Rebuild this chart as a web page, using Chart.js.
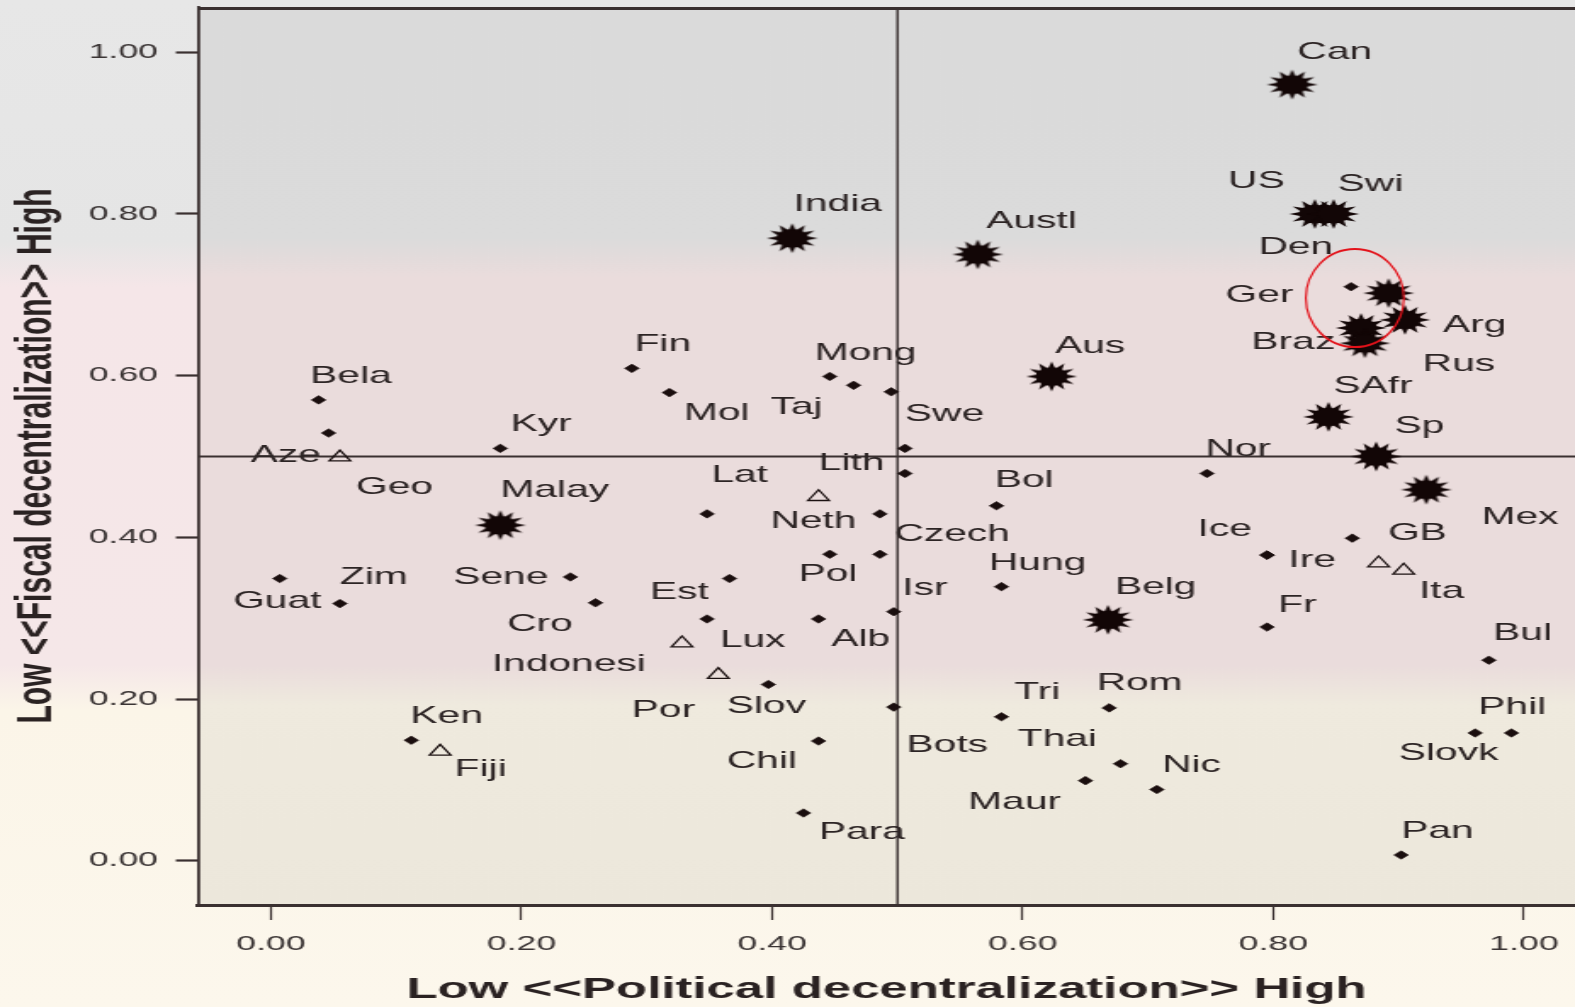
<!DOCTYPE html>
<html>
<head>
<meta charset="utf-8">
<script src="https://cdn.jsdelivr.net/npm/chart.js@4.4.1/dist/chart.umd.min.js"></script>
<style>
html,body{margin:0;padding:0;width:1575px;height:1007px;overflow:hidden;}
body{background:linear-gradient(to bottom,#e7e7e7 0%,#e5e5e5 24%,#f5e6e8 28.5%,#f5e7e8 66%,#fbf5e8 70.5%,#fcf7ec 100%);}
#wrap{position:absolute;left:0;top:0;width:927px;height:1007px;transform:scaleX(1.699);transform-origin:0 0;}
canvas{display:block;}
</style>
</head>
<body>
<div id="wrap"><canvas id="c" width="927" height="1007"></canvas></div>
<script>
// ---------- data ----------
// Federations (star markers)
const starNames = ['Can','US','Swi','India','Austl','Den','Arg','Braz','Rus','Aus','SAfr','Sp','Mex','Malay','Belg'];
const starX = [0.815,0.833,0.848,0.416,0.564,0.892,0.905,0.870,0.873,0.623,0.844,0.882,0.922,0.183,0.668];
const starY = [0.960,0.800,0.800,0.770,0.750,0.702,0.669,0.659,0.640,0.599,0.549,0.500,0.459,0.415,0.298];

// Triangle markers
const triNames = ['Geo','Fiji','Lith','Indonesi','Por','','Ita'];
const triX = [0.055,0.135,0.437,0.328,0.357,0.884,0.904];
const triY = [0.499,0.135,0.450,0.269,0.230,0.368,0.359];

// Other countries (small diamonds)
const dotNames = ['Bela','Aze','Kyr','Guat','Zim','Ken','Sene','Cro','Fin','Mol','Mong','Taj','Swe','','',
  'Lat','Neth','Pol','Czech','Est','Hung','Isr','Lux','Alb','Slov','Bots','Tri','Thai','Chil','Para',
  'Maur','Nic','Rom','Nor','Ice','Ire','Fr','Bul','Phil','Slovk','Pan','GB','Ger','Bol'];
const dotX = [0.038,0.046,0.183,0.007,0.055,0.112,0.239,0.259,0.288,0.318,0.446,0.465,0.495,0.506,0.506,
  0.348,0.486,0.446,0.486,0.366,0.583,0.497,0.348,0.437,0.397,0.497,0.583,0.678,0.437,0.425,
  0.650,0.707,0.669,0.747,0.795,0.795,0.795,0.972,0.990,0.961,0.902,0.863,0.862,0.579];
const dotY = [0.570,0.529,0.510,0.349,0.318,0.149,0.351,0.319,0.609,0.579,0.599,0.588,0.580,0.510,0.479,
  0.429,0.429,0.379,0.379,0.349,0.339,0.308,0.299,0.299,0.218,0.190,0.178,0.120,0.148,0.059,
  0.099,0.088,0.189,0.479,0.378,0.378,0.289,0.248,0.158,0.158,0.007,0.399,0.710,0.439];

// Axis ticks and reference cut-offs
const xTickValues = [0.00,0.20,0.40,0.60,0.80,1.00];
const yTickValues = [0.00,0.20,0.40,0.60,0.80,1.00];
const CUT_X = 0.5, CUT_Y = 0.5;
const highlight = {x:0.865, y:0.696};

// ---------- label placement (px offsets from each marker, style only) ----------
const starLabelPos = [[3,-32],[-51,-33],[2.4,-30],[0.8,-34],[5,-33],[-76.7,-46],[22.4,6],[-64.5,14],[34,21],[2,-30],[2.8,-30],[10.8,-30],[32.5,28],[0,-35],[4,-32]];
const triLabelPos = [[9.5,30],[8.5,18],[0,-34],[-112,21],[-51,36],null,[9,21]];
const dotLabelPos = [[-5,-24],[-46,22],[6,-24],[-27.5,23],[0,-26],[-0.5,-24],[-69,0],[-52,22],[1.5,-24],[8.5,21],[-9,-23.5],[-49,22],[8,23],null,null,
  [2.5,-38.5],[-64.5,7],[-18.5,20],[8.5,-20],[-47,13.5],[-7.5,-23],[5,-23],[7.5,21.5],[7.5,20.5],[-24.5,21.5],[7.5,38.5],[7.5,-24],[-60.5,-24],[-54,20.5],[9,19],
  [-69,21.5],[3,-24],[-7.5,-25],[-1,-24.5],[-41,-25.5],[12.5,5.5],[6.5,-22],[2.5,-26.5],[-19.5,-25.5],[-45,20],[0,-23.5],[21,-5],[-74,9],[-1,-25.5]];

const STRETCH = 1.699;
const INK = '#2c2424';
const LABEL_FONT = '24px "Liberation Sans", Arial, sans-serif';

function pts(xs, ys){ return xs.map((v,i)=>({x:v, y:ys[i]})); }

function makeStar(){
  const R = 15, c = document.createElement('canvas');
  c.width = Math.ceil(2*R+2); c.height = Math.ceil(2*R+2);
  const g = c.getContext('2d');
  g.translate(c.width/2, c.height/2);
  g.beginPath();
  const n = 12;
  for(let i=0;i<2*n;i++){
    const r = (i%2===0) ? R : R*0.55;
    const a = i*Math.PI/n - Math.PI/2;
    const px = Math.cos(a)*r, py = Math.sin(a)*r;
    if(i===0) g.moveTo(px,py); else g.lineTo(px,py);
  }
  g.closePath();
  g.fillStyle = '#120606';
  g.fill();
  g.beginPath(); g.arc(0,0,R*0.62,0,Math.PI*2); g.fill();
  return c;
}
const starImg = makeStar();

function noPad(scale){
  scale.paddingLeft = 0; scale.paddingRight = 0;
  scale.paddingTop = 0; scale.paddingBottom = 0;
}

const decor = {
  id: 'decor',
  beforeDraw(chart){
    const {ctx, chartArea:{left,top,right,bottom}} = chart;
    const g = ctx.createLinearGradient(0,0,0,chart.height);
    g.addColorStop(0,'#dadada');
    g.addColorStop(0.235,'#dbdbdb');
    g.addColorStop(0.275,'#eadcdc');
    g.addColorStop(0.66,'#eadcdc');
    g.addColorStop(0.70,'#efeade');
    g.addColorStop(1,'#ebe6da');
    ctx.save();
    ctx.fillStyle = g;
    ctx.fillRect(left, top, right-left, bottom-top);
    ctx.restore();
  },
  beforeDatasetsDraw(chart){
    const {ctx, chartArea:{left,top,right,bottom}, scales:{x,y}} = chart;
    ctx.save();
    ctx.strokeStyle = '#3a3030';
    const px = x.getPixelForValue(CUT_X), py = y.getPixelForValue(CUT_Y);
    ctx.lineWidth = 1.4;
    ctx.beginPath(); ctx.moveTo(px, top); ctx.lineTo(px, bottom); ctx.stroke();
    ctx.lineWidth = 2.2;
    ctx.beginPath(); ctx.moveTo(left, py); ctx.lineTo(right, py); ctx.stroke();
    ctx.lineWidth = 3;
    ctx.beginPath(); ctx.moveTo(left, top+1.5); ctx.lineTo(right, top+1.5); ctx.stroke();
    ctx.restore();
  },
  afterDatasetsDraw(chart){
    const {ctx, scales:{x,y}} = chart;
    ctx.save();
    ctx.font = LABEL_FONT;
    ctx.fillStyle = INK;
    ctx.textAlign = 'left';
    ctx.textBaseline = 'middle';
    chart.data.datasets.forEach((ds, di) => {
      const meta = chart.getDatasetMeta(di);
      meta.data.forEach((el, i) => {
        const name = ds.names[i];
        const off = ds.labelPos[i];
        if(!name || !off) return;
        ctx.fillText(name, el.x + off[0], el.y + off[1]);
      });
    });
    ctx.restore();
    // red highlight circle
    const cx = x.getPixelForValue(highlight.x), cy = y.getPixelForValue(highlight.y);
    ctx.save();
    ctx.translate(cx, cy);
    ctx.scale(1/STRETCH, 1);
    ctx.beginPath();
    ctx.arc(0, 0, 49, 0, Math.PI*2);
    ctx.strokeStyle = '#e3121a';
    ctx.lineWidth = 2;
    ctx.stroke();
    ctx.restore();
  }
};

const tickFont = {family:'"Liberation Sans", Arial, sans-serif', size:21};
const titleFont = {family:'"Liberation Sans", Arial, sans-serif', size:30, weight:'bold', lineHeight:1};

new Chart(document.getElementById('c'), {
  type: 'scatter',
  data: {
    datasets: [
      {
        label: 'Federations', names: starNames, labelPos: starLabelPos,
        data: pts(starX, starY),
        pointStyle: starImg, pointRadius: 14, pointHoverRadius: 14
      },
      {
        label: 'Triangles', names: triNames, labelPos: triLabelPos,
        data: pts(triX, triY),
        pointStyle: 'triangle', pointRadius: 7.2, pointHoverRadius: 7.2,
        backgroundColor: 'rgba(0,0,0,0)', borderColor: '#1c1212', borderWidth: 1.3
      },
      {
        label: 'Others', names: dotNames, labelPos: dotLabelPos,
        data: pts(dotX, dotY),
        pointStyle: 'rectRot', pointRadius: 4.3, pointHoverRadius: 4.3,
        backgroundColor: '#1a0e0e', borderColor: '#1a0e0e', borderWidth: 0.5
      }
    ]
  },
  options: {
    responsive: false,
    devicePixelRatio: 1,
    animation: false,
    events: [],
    layout: {autoPadding: false, padding: {top: 7, right: 0, left: 0, bottom: 0}},
    plugins: {legend: {display: false}, tooltip: {enabled: false}},
    scales: {
      x: {
        type: 'linear',
        min: -0.0583, max: 1.0407,
        afterFit(scale){ scale.height = 102; noPad(scale); },
        afterBuildTicks(scale){ scale.ticks = xTickValues.map(v => ({value: v})); },
        ticks: {
          font: tickFont, color: '#3a3434', padding: 12, maxRotation: 0, autoSkip: false,
          callback: v => Number(v).toFixed(2)
        },
        grid: {display: true, drawOnChartArea: false, drawTicks: true, tickLength: 15, tickWidth: 1.2, tickColor: '#3a3030'},
        border: {display: true, color: '#3a3030', width: 3},
        title: {display: true, text: 'Low <<Political decentralization>> High', font: titleFont, color: '#2a2222', padding: {top: 0, bottom: 2}}
      },
      y: {
        type: 'linear',
        min: -0.0548, max: 1.056,
        afterFit(scale){ scale.width = 116.5; noPad(scale); },
        afterBuildTicks(scale){ scale.ticks = yTickValues.map(v => ({value: v})); },
        ticks: {
          font: tickFont, color: '#3a3434', padding: 10.5, autoSkip: false,
          callback: v => Number(v).toFixed(2)
        },
        grid: {display: true, drawOnChartArea: false, drawTicks: true, tickLength: 13, tickWidth: 2.2, tickColor: '#3a3030'},
        border: {display: true, color: '#3a3030', width: 1.8},
        title: {display: true, text: 'Low <<Fiscal decentralization>> High', font: titleFont, color: '#2a2222', padding: {top: 7, bottom: 0}}
      }
    }
  },
  plugins: [decor]
});
</script>
</body>
</html>
